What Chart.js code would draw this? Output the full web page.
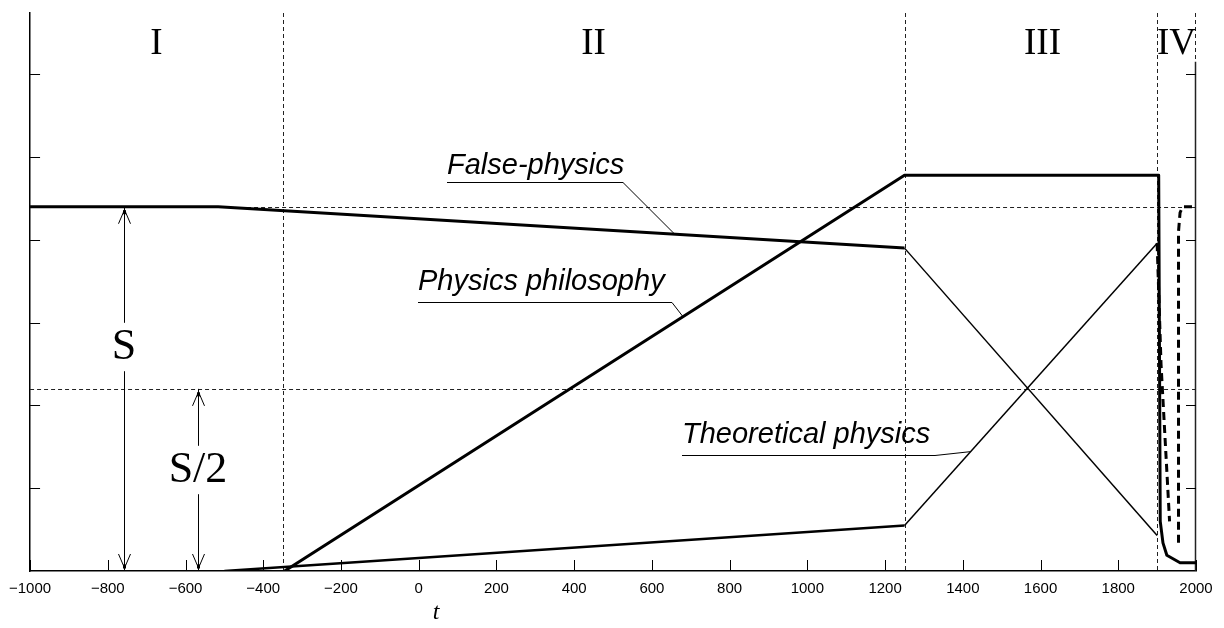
<!DOCTYPE html>
<html>
<head>
<meta charset="utf-8">
<script src="https://cdn.jsdelivr.net/npm/chart.js@4.4.1/dist/chart.umd.min.js"></script>
<style>
  html, body { margin: 0; padding: 0; background: #fff; }
</style>
</head>
<body>
<canvas id="chart" width="1224" height="628"></canvas>
<script>
// x axis
const xTicks = [-1000, -800, -600, -400, -200, 0, 200, 400, 600, 800, 1000, 1200, 1400, 1600, 1800, 2000];
const yTicks = [1, 2, 3, 4, 5, 6];
const regionBounds = [-350, 1250, 1900];
const regionNames = ['I', 'II', 'III', 'IV'];
const regionLabelX = [-675, 450, 1605, 1950];

// levels S and S/2
const S = 4.4;
const levels = [S, S / 2];

// False-physics
const falseT = [-1000, -516, 1250];
const falseV = [4.4, 4.4, 3.9];
const falseT3 = [1250, 1900];
const falseV3 = [3.9, 0.43];
const falseT4 = [1955, 1955, 1959, 1966, 2000];
const falseV4 = [0.34, 4.1, 4.33, 4.4, 4.4];

// Physics philosophy
const philT = [-345, 1250, 1904, 1908, 1915, 1925, 1959, 2000];
const philV = [0, 4.78, 4.78, 0.6, 0.34, 0.19, 0.1, 0.1];

// Theoretical physics
const theoT = [-500, 1250];
const theoV = [0, 0.55];
const theoT3 = [1250, 1900];
const theoV3 = [0.55, 3.96];
const theoT4 = [1900, 1910, 1932];
const theoV4 = [3.96, 2.5, 0.6];

const toXY = (t, v) => t.map((x, i) => ({ x, y: v[i] }));

function interp(t, v, at) {
    for (let i = 0; i < t.length - 1; i++) {
        if (at >= t[i] && at <= t[i + 1]) {
            return v[i] + (v[i + 1] - v[i]) * (at - t[i]) / (t[i + 1] - t[i]);
        }
    }
    return v[v.length - 1];
}

function lineDs(t, v, width, dash) {
    return {
        data: toXY(t, v),
        borderColor: '#000',
        borderWidth: width,
        borderDash: dash || [],
        pointRadius: 0,
        tension: 0,
        fill: false,
        borderJoinStyle: 'round'
    };
}

// annotations: text, text x/baseline, underline end, leader target on a series
const notes = [
    { text: 'False-physics', x: 447, y: 174, uy: 182, ux2: 623, t: 659, series: [falseT, falseV] },
    { text: 'Physics philosophy', x: 418, y: 290, uy: 302, ux2: 672, t: 680, series: [philT, philV] },
    { text: 'Theoretical physics', x: 682, y: 443, uy: 455, ux2: 935, t: 1420, series: [theoT3, theoV3] }
];

function arrowHead(ctx, x, y, dir) {
    // dir = -1: tip points up, +1: tip points down
    ctx.beginPath();
    ctx.moveTo(x - 6, y - dir * 17);
    ctx.lineTo(x, y - dir * 3);
    ctx.lineTo(x + 6, y - dir * 17);
    ctx.stroke();
    ctx.fillRect(x - 1.5, y - dir * 5 - 1.5, 3, 4);
}

function dimension(ctx, x, yTop, yBot, label, labelY, size) {
    ctx.save();
    ctx.strokeStyle = '#000';
    ctx.fillStyle = '#000';
    ctx.lineWidth = 1;
    ctx.beginPath();
    ctx.moveTo(x + 0.5, yTop);
    ctx.lineTo(x + 0.5, yBot);
    ctx.stroke();
    arrowHead(ctx, x + 0.5, yTop, -1);
    arrowHead(ctx, x + 0.5, yBot, 1);
    ctx.font = size + 'px "Liberation Serif"';
    const w = ctx.measureText(label).width;
    ctx.fillStyle = '#fff';
    ctx.fillRect(x - w / 2 - 2, labelY - size * 0.55, w + 4, size * 1.1);
    ctx.fillStyle = '#000';
    ctx.textAlign = 'center';
    ctx.textBaseline = 'middle';
    ctx.fillText(label, x, labelY);
    ctx.restore();
}

const overlay = {
    id: 'overlay',
    beforeDatasetsDraw(chart) {
        const { ctx, chartArea: a, scales: { x, y } } = chart;
        ctx.save();
        ctx.strokeStyle = '#222';
        ctx.lineWidth = 1;
        ctx.setLineDash([4, 3]);
        regionBounds.forEach(t => {
            const px = Math.round(x.getPixelForValue(t)) + 0.5;
            ctx.beginPath();
            ctx.moveTo(px, a.top);
            ctx.lineTo(px, a.bottom);
            ctx.stroke();
        });
        levels.forEach(v => {
            const py = Math.round(y.getPixelForValue(v)) + 0.5;
            ctx.beginPath();
            ctx.moveTo(a.left, py);
            ctx.lineTo(a.right, py);
            ctx.stroke();
        });
        // right border: dashed top part, solid below
        const rx = Math.round(a.right) - 0.5;
        const ySolid = y.getPixelForValue(6.15);
        ctx.beginPath();
        ctx.moveTo(rx, a.top);
        ctx.lineTo(rx, ySolid);
        ctx.stroke();
        ctx.setLineDash([]);
        ctx.lineWidth = 1.5;
        ctx.beginPath();
        ctx.moveTo(rx, ySolid);
        ctx.lineTo(rx, a.bottom);
        ctx.stroke();
        ctx.restore();
    },
    afterDatasetsDraw(chart) {
        const { ctx, chartArea: a, scales: { x, y } } = chart;
        ctx.save();
        ctx.strokeStyle = '#000';
        ctx.fillStyle = '#000';
        ctx.lineWidth = 1;

        // inward tick marks
        xTicks.forEach(t => {
            const px = Math.round(x.getPixelForValue(t)) + 0.5;
            ctx.beginPath();
            ctx.moveTo(px, a.bottom);
            ctx.lineTo(px, a.bottom - 11);
            ctx.stroke();
        });
        yTicks.forEach(v => {
            const py = Math.round(y.getPixelForValue(v)) + 0.5;
            ctx.beginPath();
            ctx.moveTo(a.left, py);
            ctx.lineTo(a.left + 10, py);
            ctx.moveTo(a.right, py);
            ctx.lineTo(a.right - 10, py);
            ctx.stroke();
        });

        // region names
        ctx.font = '37px "Liberation Serif"';
        ctx.textAlign = 'center';
        ctx.textBaseline = 'middle';
        regionNames.forEach((n, i) => {
            ctx.fillText(n, x.getPixelForValue(regionLabelX[i]), 44);
        });

        // annotations
        ctx.font = 'italic 29px "Liberation Sans"';
        ctx.textAlign = 'left';
        ctx.textBaseline = 'alphabetic';
        notes.forEach(n => {
            ctx.fillText(n.text, n.x, n.y);
            const tx = x.getPixelForValue(n.t);
            const ty = y.getPixelForValue(interp(n.series[0], n.series[1], n.t));
            ctx.beginPath();
            ctx.moveTo(n.x, n.uy + 0.5);
            ctx.lineTo(n.ux2, n.uy + 0.5);
            ctx.lineTo(tx, ty);
            ctx.stroke();
        });

        // S and S/2 dimensions
        dimension(ctx, Math.round(x.getPixelForValue(-758)), y.getPixelForValue(S), y.getPixelForValue(0), 'S', 347, 44);
        dimension(ctx, Math.round(x.getPixelForValue(-568)), y.getPixelForValue(S / 2), y.getPixelForValue(0), 'S/2', 470, 44);

        // axis title
        ctx.font = 'italic 24px "Liberation Serif"';
        ctx.textAlign = 'center';
        ctx.textBaseline = 'middle';
        ctx.fillText('t', x.getPixelForValue(45), 613);
        ctx.restore();
    }
};

new Chart(document.getElementById('chart'), {
    type: 'line',
    data: {
        datasets: [
            lineDs(falseT, falseV, 3),
            lineDs(falseT3, falseV3, 1.5),
            lineDs(falseT4, falseV4, 3, [8, 5]),
            lineDs(philT, philV, 3),
            lineDs(theoT, theoV, 2.5),
            lineDs(theoT3, theoV3, 1.5),
            lineDs(theoT4, theoV4, 3, [8, 5])
        ]
    },
    options: {
        responsive: false,
        animation: false,
        layout: { padding: { top: 13, left: 0, right: 0, bottom: 0 } },
        plugins: { legend: { display: false }, tooltip: { enabled: false } },
        scales: {
            x: {
                type: 'linear',
                min: -1000,
                max: 2000,
                afterBuildTicks: s => { s.ticks = xTicks.map(v => ({ value: v })); },
                afterFit: s => { s.height = 57; },
                grid: { display: false, drawTicks: false },
                border: { display: true, color: '#000', width: 1.5 },
                ticks: {
                    autoSkip: false,
                    maxRotation: 0,
                    padding: 9,
                    color: '#000',
                    font: { family: 'Liberation Sans', size: 15 },
                    callback: v => String(v).replace('-', '\u2212')
                }
            },
            y: {
                position: 'left',
                min: 0,
                max: 6.74,
                afterFit: s => { s.width = 30; },
                grid: { display: false, drawTicks: false },
                border: { display: true, color: '#000', width: 1.5 },
                ticks: { display: false }
            },
            y2: {
                position: 'right',
                min: 0,
                max: 6.74,
                afterFit: s => { s.width = 28; },
                grid: { display: false, drawTicks: false },
                border: { display: false },
                ticks: { display: false }
            }
        }
    },
    plugins: [overlay]
});
</script>
</body>
</html>
